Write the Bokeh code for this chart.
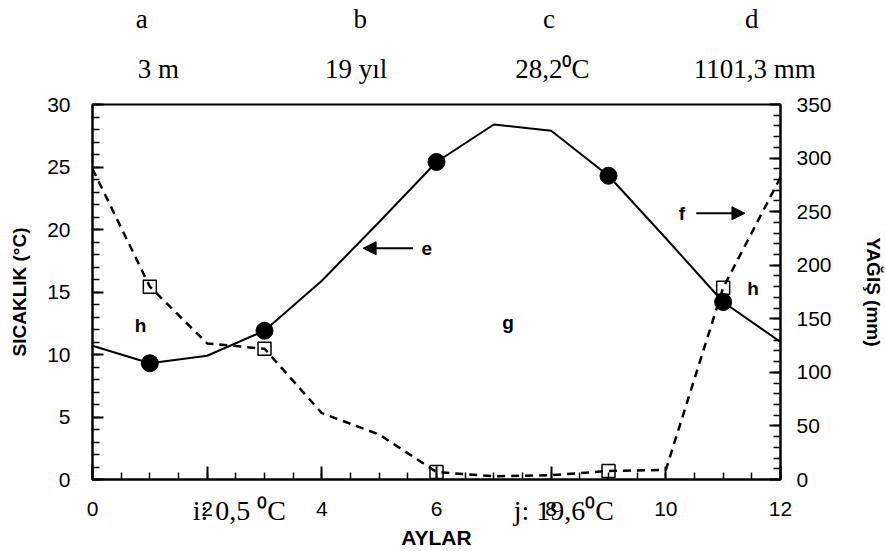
from bokeh.plotting import figure
from bokeh.models import Range1d, LinearAxis, FixedTicker, Label, Arrow, NormalHead
from bokeh.embed import file_html
from bokeh.resources import INLINE

# ---- data ----
months = [0, 1, 2, 3, 4, 5, 6, 7, 8, 9, 10, 11, 12]
temperature = [10.7, 9.3, 9.9, 11.9, 15.9, 20.6, 25.4, 28.4, 27.9, 24.3, 19.3, 14.2, 11.0]
precipitation = [290, 180, 127, 122, 62, 42, 7, 3, 4, 8, 9, 179, 282]
marker_months = [1, 3, 6, 9, 11]

x_ticks = [0, 2, 4, 6, 8, 10, 12]
x_minor = [i * 0.5 for i in range(25)]
temp_ticks = [0, 5, 10, 15, 20, 25, 30]
temp_minor = list(range(31))
rain_ticks = [0, 50, 100, 150, 200, 250, 300, 350]
rain_minor = list(range(0, 351, 10))

letter_x = [0.86, 4.67, 7.96, 11.5]
top_letters = ["a", "b", "c", "d"]
value_x = [1.15, 4.6, 8.02, 11.55]
top_values = ["3 m", "19 yıl", "28,2⁰C", "1101,3 mm"]
bottom_x = [2.56, 8.22]
bottom_notes = ["i: 0,5 ⁰C", "j: 19,6⁰C"]

SANS = "Liberation Sans"
SERIF = "Liberation Serif"

p = figure(width=886, height=551, output_backend="svg", toolbar_location=None,
           x_range=Range1d(0, 12), y_range=Range1d(0, 30),
           min_border_left=92, min_border_right=105, min_border_top=102, min_border_bottom=71)
p.extra_y_ranges = {"rain": Range1d(0, 350)}
p.grid.visible = False
p.outline_line_color = "black"
p.outline_line_width = 2
p.background_fill_color = "white"
p.border_fill_color = "white"


def style_axis(ax, font_size="21px"):
    ax.major_tick_out = 0
    ax.minor_tick_out = 0
    ax.axis_line_width = 2
    ax.major_tick_line_width = 2
    ax.minor_tick_line_width = 1.5
    ax.major_label_text_font = SANS
    ax.major_label_text_font_size = font_size
    ax.major_label_text_color = "black"
    ax.axis_label_text_font = SANS
    ax.axis_label_text_font_style = "bold"
    ax.axis_label_text_font_size = "19px"
    ax.axis_label_text_color = "black"


def text_axis(ax, font, size, standoff):
    ax.axis_line_color = None
    ax.major_tick_line_color = None
    ax.minor_tick_line_color = None
    ax.major_tick_in = 0
    ax.major_tick_out = 0
    ax.minor_tick_in = 0
    ax.minor_tick_out = 0
    ax.major_label_text_font = font
    ax.major_label_text_font_size = size
    ax.major_label_text_color = "black"
    ax.major_label_standoff = standoff


# x axis (months)
xa = p.xaxis[0]
style_axis(xa)
xa.ticker = FixedTicker(ticks=x_ticks, minor_ticks=x_minor)
xa.major_tick_in = 13
xa.minor_tick_in = 7
xa.major_label_standoff = 22

# second bottom axis carrying the i / j notes and the AYLAR title
xb = LinearAxis(axis_label="AYLAR")
xb.ticker = FixedTicker(ticks=bottom_x, minor_ticks=[])
xb.major_label_overrides = {k: v for k, v in zip(bottom_x, bottom_notes)}
text_axis(xb, SERIF, "28px", -24)
xb.axis_label_text_font = SANS
xb.axis_label_text_font_style = "bold"
xb.axis_label_text_font_size = "21px"
xb.axis_label_text_color = "black"
xb.axis_label_standoff = -3
p.add_layout(xb, "below")

# top axes carrying the station information
xt1 = LinearAxis()
xt1.ticker = FixedTicker(ticks=value_x, minor_ticks=[])
xt1.major_label_overrides = {k: v for k, v in zip(value_x, top_values)}
text_axis(xt1, SERIF, "27px", 21)
p.add_layout(xt1, "above")

xt2 = LinearAxis()
xt2.ticker = FixedTicker(ticks=letter_x, minor_ticks=[])
xt2.major_label_overrides = {k: v for k, v in zip(letter_x, top_letters)}
text_axis(xt2, SERIF, "27px", 17)
p.add_layout(xt2, "above")

# left axis (temperature)
ya = p.yaxis[0]
style_axis(ya)
ya.ticker = FixedTicker(ticks=temp_ticks, minor_ticks=temp_minor)
ya.axis_label = "SICAKLIK (°C)"
ya.major_tick_in = 11
ya.minor_tick_in = 7
ya.major_label_standoff = 22
ya.axis_label_standoff = 14

# right axis (precipitation)
ra = LinearAxis(y_range_name="rain", axis_label="YAĞIŞ (mm)")
style_axis(ra)
ra.ticker = FixedTicker(ticks=rain_ticks, minor_ticks=rain_minor)
ra.major_tick_in = 11
ra.minor_tick_in = 7
ra.major_label_standoff = 16
ra.axis_label_standoff = 28
p.add_layout(ra, "right")

# series
p.line(months, temperature, line_color="black", line_width=2)
p.scatter([months[m] for m in marker_months], [temperature[m] for m in marker_months],
          marker="circle", size=17, fill_color="black", line_color="black")

p.line(months, precipitation, y_range_name="rain", line_color="black",
       line_width=2.5, line_dash="8 6")
p.scatter([months[m] for m in marker_months], [precipitation[m] for m in marker_months],
          y_range_name="rain", marker="square", size=13, fill_alpha=0,
          line_color="black", line_width=1.5)


# annotations inside the plot area
def lab(x, y, text):
    p.add_layout(Label(x=x, y=y, text=text, text_font=SANS, text_font_size="19px",
                       text_font_style="bold", text_align="center",
                       text_baseline="middle", text_color="black"))


lab(0.84, 12.3, "h")
lab(7.25, 12.55, "g")
lab(11.52, 15.3, "h")
lab(5.83, 18.5, "e")
lab(10.28, 21.3, "f")

p.add_layout(Arrow(end=NormalHead(size=13, fill_color="black", line_color="black"),
                   x_start=5.59, y_start=18.5, x_end=4.72, y_end=18.5,
                   line_width=2, line_color="black"))
p.add_layout(Arrow(end=NormalHead(size=13, fill_color="black", line_color="black"),
                   x_start=10.53, y_start=21.3, x_end=11.38, y_end=21.3,
                   line_width=2, line_color="black"))

open("out.html", "w").write(file_html(p, INLINE))
